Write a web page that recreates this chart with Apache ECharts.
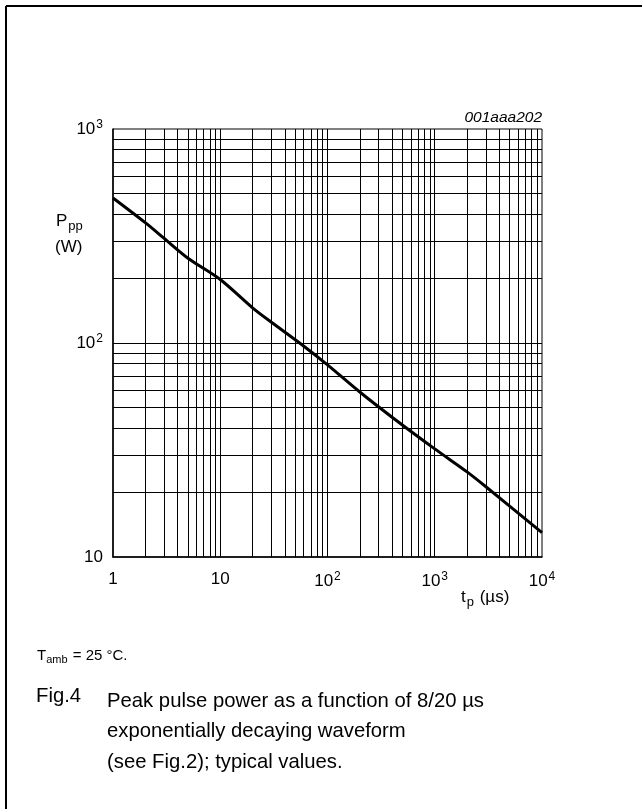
<!DOCTYPE html>
<html>
<head>
<meta charset="utf-8">
<script src="https://cdn.jsdelivr.net/npm/echarts@6/dist/echarts.min.js"></script>
<style>
  html, body { margin: 0; padding: 0; background: #fff; }
  #chart { width: 642px; height: 809px; }
</style>
</head>
<body>
<div id="chart"></div>
<script>
// pulse duration tp (us) and peak pulse power Ppp (W)
var tp = [1, 2, 3, 5, 10, 20, 30, 55, 100, 200, 400, 1000, 2000, 3000, 10000];
var ppp = [476, 365, 308, 249, 198, 146, 125, 100, 79, 59, 45, 32, 25, 21.3, 13];

// gridline positions (1..9 per decade)
var xDecades = [1, 10, 100, 1000];
var yDecades = [10, 100];
var steps = [2, 3, 4, 5, 6, 7, 8, 9];

var xTickLabels = { 1: '1', 10: '10', 100: '{n|10}{s|2}', 1000: '{n|10}{s|3}', 10000: '{n|10}{s|4}' };
var yTickLabels = { 10: '10', 100: '{n|10}{s|2}', 1000: '{n|10}{s|3}' };

var FONT = '"Liberation Sans", Arial, sans-serif';

var gridLines = [];
xDecades.forEach(function(d) {
	steps.forEach(function(s) { gridLines.push({ xAxis: d * s }); });
	if (d > 1) gridLines.push({ xAxis: d });
});
yDecades.forEach(function(d) {
	steps.forEach(function(s) { gridLines.push({ yAxis: d * s }); });
	if (d > 10) gridLines.push({ yAxis: d });
});

var supRich = {
	n: { fontSize: 17, fontFamily: FONT, color: '#000' },
	s: { fontSize: 12, fontFamily: FONT, color: '#000', padding: [0, 0, 8, 1] }
};
var subRich = {
	n: { fontSize: 17, fontFamily: FONT, color: '#000' },
	s: { fontSize: 13, fontFamily: FONT, color: '#000', padding: [9, 1, 0, 1] }
};

var myChart = echarts.init(document.getElementById('chart'), null, { renderer: 'canvas' });

var option = {
	animation: false,
	backgroundColor: '#fff',
	grid: {
		left: 113, top: 129, width: 429, height: 428,
		show: true, borderColor: '#000', borderWidth: 1, backgroundColor: 'transparent'
	},
	xAxis: {
		type: 'log', logBase: 10, min: 1, max: 10000,
		axisLine: { show: true, lineStyle: { color: '#000', width: 1.5 } },
		axisTick: { show: false },
		splitLine: { show: false },
		axisLabel: {
			margin: 14, fontSize: 17, fontFamily: FONT, color: '#000',
			formatter: function(v) { return xTickLabels[Math.round(v)] || ''; },
			rich: supRich
		}
	},
	yAxis: {
		type: 'log', logBase: 10, min: 10, max: 1000,
		axisLine: { show: true, lineStyle: { color: '#000', width: 1.5 } },
		axisTick: { show: false },
		splitLine: { show: false },
		axisLabel: {
			margin: 10, fontSize: 17, fontFamily: FONT, color: '#000',
			formatter: function(v) { return yTickLabels[Math.round(v)] || ''; },
			rich: supRich
		}
	},
	series: [{
		type: 'line',
		data: tp.map(function(t, i) { return [t, ppp[i]]; }),
		symbol: 'none',
		smooth: 0.3,
		lineStyle: { color: '#000', width: 3 },
		z: 5,
		markLine: {
			silent: true,
			symbol: 'none',
			label: { show: false },
			lineStyle: { color: '#000', width: 1, type: 'solid' },
			data: gridLines,
			z: 1
		}
	}],
	graphic: [
		// frame
		{ type: 'line', shape: { x1: 6, y1: 6, x2: 642, y2: 6 }, style: { stroke: '#000', lineWidth: 2 } },
		{ type: 'line', shape: { x1: 6, y1: 6, x2: 6, y2: 809 }, style: { stroke: '#000', lineWidth: 2 } },
		// drawing code
		{ type: 'text', right: 100, top: 110, style: {
			text: '001aaa202', font: 'italic 15.5px ' + FONT, fill: '#000', textAlign: 'right'
		} },
		// y axis name
		{ type: 'text', left: 56, top: 213, style: {
			text: '{n|P}{s|pp}', rich: subRich, fill: '#000'
		} },
		{ type: 'text', left: 55, top: 239, style: {
			text: '(W)', font: '17px ' + FONT, fill: '#000'
		} },
		// x axis name
		{ type: 'text', left: 461, top: 589, style: {
			text: '{n|t}{s|p}{n| (µs)}', rich: subRich, fill: '#000'
		} },
		// conditions
		{ type: 'text', left: 37, top: 648, style: {
			text: '{n|T}{s|amb}{n| = 25 °C.}',
			rich: {
				n: { fontSize: 15, fontFamily: FONT, color: '#000' },
				s: { fontSize: 11, fontFamily: FONT, color: '#000', padding: [8, 1, 0, 0] }
			}
		} },
		// caption
		{ type: 'text', left: 36, top: 686, style: {
			text: 'Fig.4', font: '20.3px ' + FONT, fill: '#000'
		} },
		{ type: 'text', left: 107, top: 686, style: {
			text: 'Peak pulse power as a function of 8/20 µs\nexponentially decaying waveform\n(see Fig.2); typical values.',
			font: '20.3px ' + FONT, fill: '#000', lineHeight: 30.5
		} }
	]
};

myChart.setOption(option);
</script>
</body>
</html>
